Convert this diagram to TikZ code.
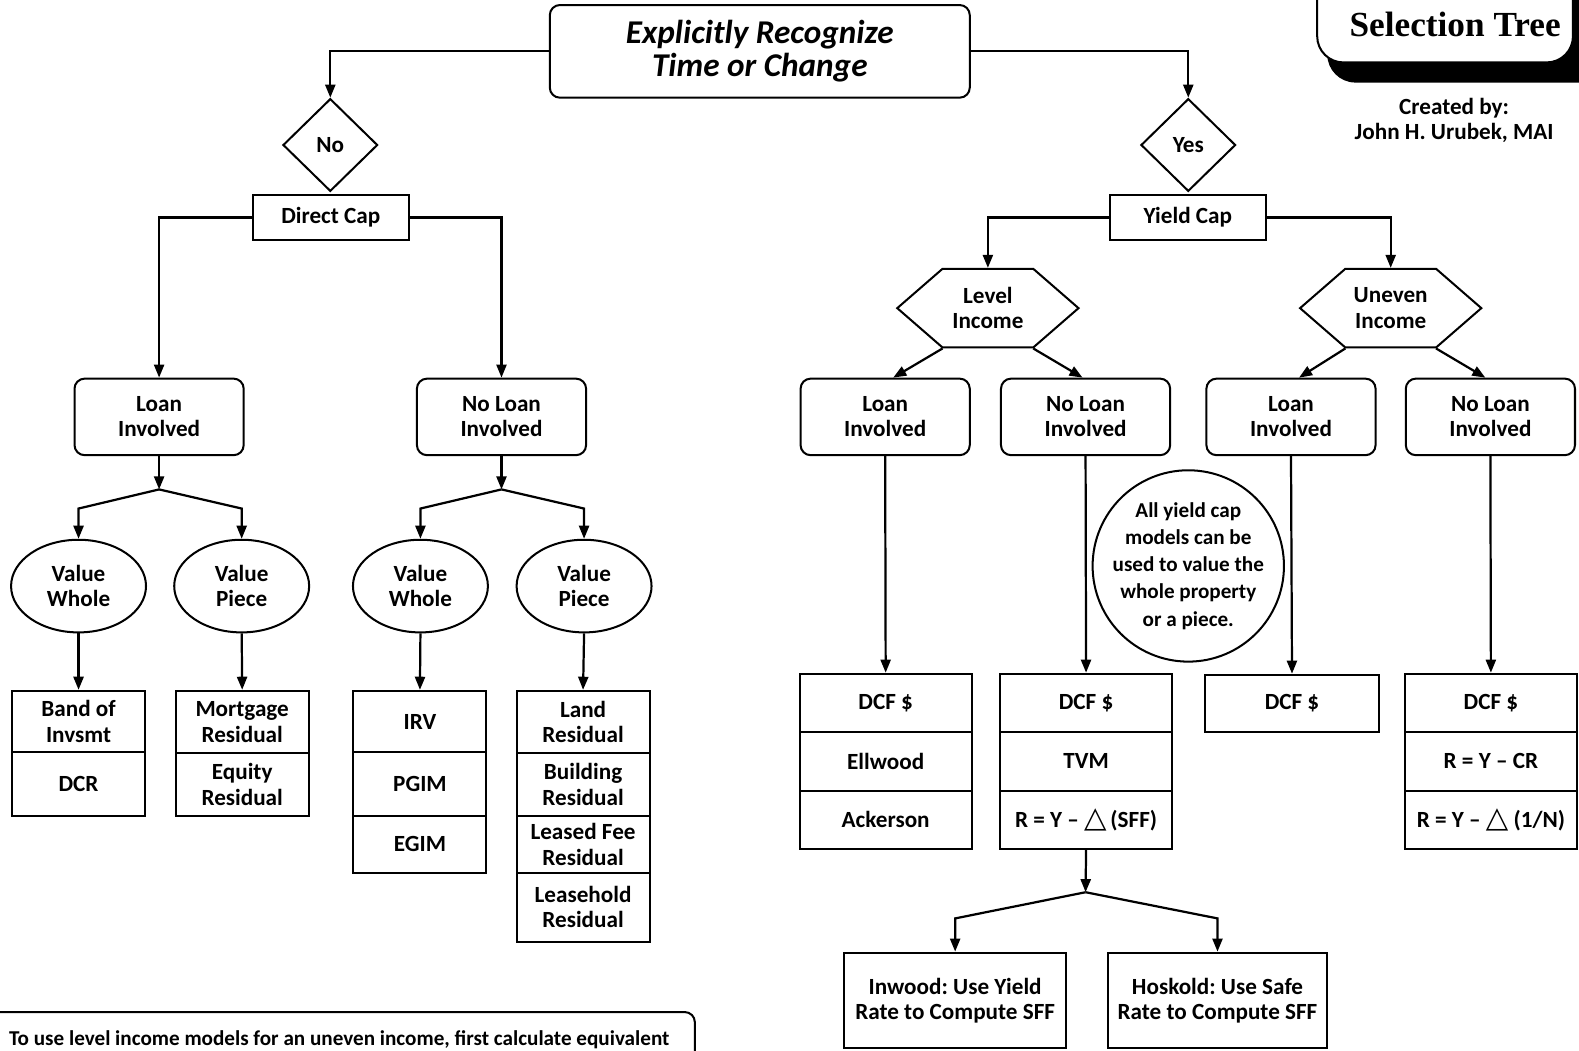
\documentclass[tikz,border=0pt]{standalone}
\usepackage{fontspec}
\setmainfont{Carlito}
\newfontfamily\titlefont{Liberation Serif}
\newfontfamily\symfont{DejaVu Sans}
\usetikzlibrary{shapes.geometric,shapes.symbols,arrows.meta}
\newcommand{\dlt}{{\symfont\fontsize{29}{29}\selectfont\char"25B3}}
\frenchspacing

\begin{document}
\begin{tikzpicture}[x=1pt, y=-1pt, line width=2pt,
    lbl/.style={font=\bfseries\fontsize{23}{25}\selectfont, align=center},
    rbox/.style={lbl, draw, rounded corners=10pt, minimum width=168pt, minimum height=76pt, inner sep=0pt},
    sbox/.style={lbl, draw, inner sep=0pt},
    cellL/.style={sbox, minimum width=132pt},
    cellR/.style={sbox, minimum width=171pt},
    decide/.style={lbl, draw, diamond, minimum width=94pt, minimum height=92pt, inner sep=0pt},
    oval/.style={lbl, draw, ellipse, minimum width=134pt, minimum height=92pt, inner sep=0pt},
    hexa/.style={lbl, draw, signal, signal to=west and east, signal pointer angle=82, minimum width=180pt, minimum height=78pt, inner sep=0pt},
    arr/.style={line width=2.2pt, -{Triangle[length=13pt,width=10pt]}}]
        \useasboundingbox (0,0) rectangle (1568,1043);
        \clip (0,0) rectangle (1568,1043);

        % draw title corner
        \fill[rounded corners=28pt] (1318,-40) rectangle (1600,82);
        \draw[fill=white, rounded corners=26pt] (1308,-40) rectangle (1562,62);
        \node[font=\titlefont\bfseries\fontsize{35}{38}\selectfont] (ttl) at (1445,24) {Selection Tree};
        \node[lbl] (cred) at (1444,120) {Created by:\\John H. Urubek, MAI};

        % draw top question
        \node[rbox, minimum width=417pt, minimum height=92pt, font=\bfseries\itshape\fontsize{33}{33}\selectfont] (q) at (754.5,51) {Explicitly Recognize\\Time or Change};
        \node[decide] (no) at (328,144) {No};
        \node[decide] (yes) at (1180,144) {Yes};
        \draw[arr] (q.west) -| (no.north);
        \draw[arr] (q.east) -| (yes.north);

        % draw cap methods
        \node[sbox, minimum width=155pt, minimum height=44pt] (dc) at (328.5,216) {Direct Cap};
        \node[sbox, minimum width=155pt, minimum height=44pt] (yc) at (1179.5,216) {Yield Cap};

        % draw direct cap side
        \node[rbox] (ll) at (158,414) {Loan\\Involved};
        \node[rbox] (nl) at (498,414) {No Loan\\Involved};
        \draw[arr] (dc.west) -| (ll.north);
        \draw[arr] (dc.east) -| (nl.north);

        \coordinate (jl) at (158,486);
        \coordinate (jn) at (498,486);
        \node[oval] (lw) at (78,582) {Value\\Whole};
        \node[oval] (lp) at (240,582) {Value\\Piece};
        \node[oval] (nw) at (417.5,582) {Value\\Whole};
        \node[oval] (np) at (580,582) {Value\\Piece};
        \draw[arr] (ll.south) -- (jl);
        \draw[arr] (nl.south) -- (jn);
        \draw[arr] (jl) -- ([yshift=30pt]lw.north) -- (lw.north);
        \draw[arr] (jl) -- ([yshift=30pt]lp.north) -- (lp.north);
        \draw[arr] (jn) -- ([yshift=30pt]nw.north) -- (nw.north);
        \draw[arr] (jn) -- ([yshift=30pt]np.north) -- (np.north);

        % draw direct cap models
        \node[cellL, minimum height=61pt] (lw1) at (78,716.5) {Band of\\Invsmt};
        \node[cellL, minimum height=63pt] (lw2) at (78,778.5) {DCR};
        \node[cellL, minimum height=62pt] (lp1) at (240.5,717) {Mortgage\\Residual};
        \node[cellL, minimum height=62pt] (lp2) at (240.5,779) {Equity\\Residual};
        \node[cellL, minimum height=61pt] (nw1) at (417,716.5) {IRV};
        \node[cellL, minimum height=63pt] (nw2) at (417,778.5) {PGIM};
        \node[cellL, minimum height=57pt] (nw3) at (417,838.5) {EGIM};
        \node[cellL, minimum height=62pt] (np1) at (579,717) {Land\\Residual};
        \node[cellL, minimum height=62pt] (np2) at (579,779) {Building\\Residual};
        \node[cellL, minimum height=57pt] (np3) at (579,838.5) {Leased Fee\\Residual};
        \node[cellL, minimum height=68pt] (np4) at (579,901) {Leasehold\\Residual};
        \draw[arr] (lw.south) -- (lw1.north);
        \draw[arr] (lp.south) -- (lp1.north);
        \draw[arr] (nw.south) -- (nw1.north);
        \draw[arr] (np.south) -- (np1.north);

        % draw yield cap side
        \node[hexa] (lvl) at (981,306) {Level\\Income};
        \node[hexa] (unv) at (1381,306) {Uneven\\Income};
        \draw[arr] (yc.west) -| (lvl.north);
        \draw[arr] (yc.east) -| (unv.north);

        \foreach \n/\x/\txt in {r1/879/Loan, r2/1078/No Loan, r3/1282/Loan, r4/1480/No Loan}
          \node[rbox] (\n) at (\x,414) {\txt\\Involved};
        \draw[arr] ([xshift=-45pt]lvl.south) -- ([xshift=8pt]r1.north);
        \draw[arr] ([xshift=45pt]lvl.south) -- ([xshift=-3pt]r2.north);
        \draw[arr] ([xshift=-45pt]unv.south) -- ([xshift=8pt]r3.north);
        \draw[arr] ([xshift=45pt]unv.south) -- ([xshift=-5pt]r4.north);

        % draw yield cap models
        \node[cellR, minimum height=58pt] (a1) at (879.5,698) {DCF \$};
        \node[cellR, minimum height=58pt] (a2) at (879.5,756) {Ellwood};
        \node[cellR, minimum height=58pt] (a3) at (879.5,814) {Ackerson};
        \node[cellR, minimum height=58pt] (b1) at (1078.5,698) {DCF \$};
        \node[cellR, minimum height=58pt] (b2) at (1078.5,756) {TVM};
        \node[cellR, minimum height=58pt] (b3) at (1078.5,814) {R = Y -- \dlt\,(SFF)};
        \node[cellR, minimum width=172pt, minimum height=57pt] (c1) at (1283,698.5) {DCF \$};
        \node[cellR, minimum height=58pt] (d1) at (1480.5,698) {DCF \$};
        \node[cellR, minimum height=58pt] (d2) at (1480.5,756) {R = Y -- CR};
        \node[cellR, minimum height=58pt] (d3) at (1480.5,814) {R = Y -- \dlt\ (1/N)};
        \draw[arr] (r1.south) -- (a1.north);
        \draw[arr] (r2.south) -- (b1.north);
        \draw[arr] (r3.south) -- (c1.north);
        \draw[arr] (r4.south) -- (d1.north);

        % draw note circle
        \node[draw, circle, minimum size=190pt, inner sep=0pt] (tip) at (1180,562) {};
        \node[font=\bfseries\fontsize{21}{27}\selectfont, align=center] (tiptxt) at (tip.center) {All yield cap\\models can be\\used to value the\\whole property\\or a piece.};

        % draw sinking fund split
        \coordinate (jt) at (1078,886);
        \node[sbox, minimum width=221pt, minimum height=95pt] (inw) at (948.5,993.5) {Inwood: Use Yield\\Rate to Compute SFF};
        \node[sbox, minimum width=218pt, minimum height=95pt] (hos) at (1209,993.5) {Hoskold: Use Safe\\Rate to Compute SFF};
        \draw[arr] (b3.south) -- (jt);
        \draw[arr] (jt) -- ([yshift=33pt]inw.north) -- (inw.north);
        \draw[arr] (jt) -- ([yshift=33pt]hos.north) -- (hos.north);

        % draw bottom note
        \node[anchor=west, inner sep=0pt, font=\bfseries\fontsize{21}{24}\selectfont] (hint) at (8,1032) {To use level income models for an uneven income, first calculate equivalent};
        \draw[rounded corners=10pt] (-10,1005) -- (690,1005) -- (690,1080);
\end{tikzpicture}
\end{document}
